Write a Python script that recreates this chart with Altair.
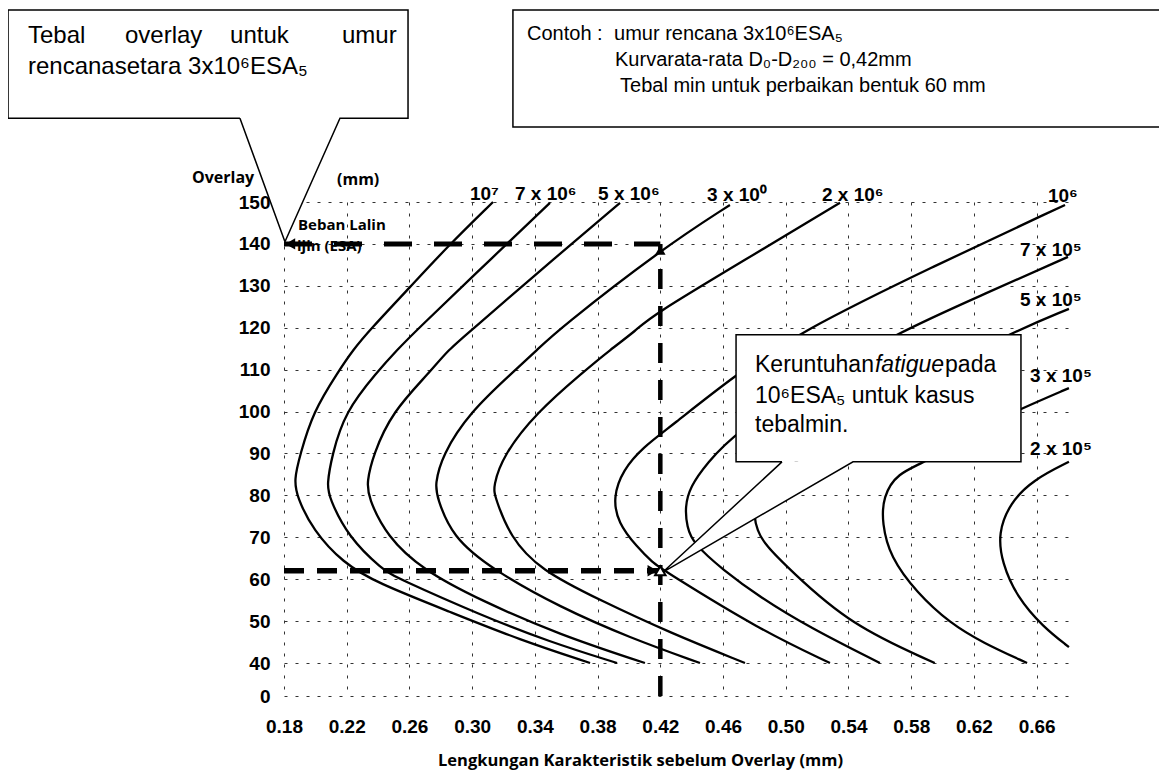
import altair as alt
import pandas as pd

# ---------------- data ----------------
series_names = ["10^7", "7x10^6", "5x10^6", "3x10^6", "2x10^6", "10^6", "7x10^5", "5x10^5", "3x10^5", "2x10^5"]

c1e7_x = [0.3133, 0.2846, 0.2604, 0.2348, 0.2240, 0.2144, 0.1985, 0.1902, 0.1864, 0.1883, 0.1985, 0.2176, 0.2393, 0.2859, 0.3305, 0.3752]
c1e7_y = [150.0, 139.5, 129.7, 119.5, 114.7, 109.4, 99.9, 89.6, 83.7, 79.6, 71.7, 63.9, 59.1, 52.2, 45.5, 40.0]

c7e6_x = [0.3496, 0.3005, 0.2648, 0.2521, 0.2393, 0.2189, 0.2106, 0.2074, 0.2087, 0.2208, 0.2431, 0.2521, 0.3050, 0.3496, 0.3924]
c7e6_y = [149.8, 132.3, 119.5, 114.7, 109.4, 99.9, 89.6, 82.5, 79.6, 70.1, 62.2, 60.3, 51.5, 45.0, 40.0]

c5e6_x = [0.3943, 0.3401, 0.2999, 0.2846, 0.2731, 0.2489, 0.2368, 0.2329, 0.2336, 0.2457, 0.2686, 0.3050, 0.3560, 0.4102]
c5e6_y = [149.8, 132.6, 119.5, 114.7, 109.4, 99.9, 89.6, 83.2, 79.6, 70.1, 62.2, 55.0, 46.7, 40.0]

c3e6_x = [0.4644, 0.4217, 0.3547, 0.3414, 0.3260, 0.2986, 0.2808, 0.2763, 0.2776, 0.2871, 0.3133, 0.3560, 0.4007, 0.4453]
c3e6_y = [149.3, 139.0, 119.5, 114.7, 109.4, 99.9, 89.6, 82.5, 79.6, 70.1, 62.2, 53.3, 46.0, 40.0]

c2e6_x = [0.5346, 0.4740, 0.4134, 0.4051, 0.3879, 0.3707, 0.3414, 0.3197, 0.3133, 0.3146, 0.3241, 0.3433, 0.3815, 0.4262, 0.4740]
c2e6_y = [149.8, 136.2, 122.6, 119.5, 114.7, 109.4, 99.9, 89.6, 82.0, 79.6, 70.1, 62.2, 55.0, 47.2, 40.0]

c1e6_x = [0.6781, 0.5920, 0.5091, 0.4676, 0.4262, 0.4090, 0.3962, 0.3898, 0.3930, 0.4051, 0.4153, 0.4217, 0.4836, 0.5282]
c1e6_y = [149.3, 134.3, 119.0, 108.7, 96.3, 91.5, 86.1, 79.6, 73.4, 67.7, 63.9, 62.2, 47.9, 40.0]

c7e5_x = [0.6800, 0.6239, 0.5709, 0.5186, 0.4676, 0.4498, 0.4389, 0.4357, 0.4370, 0.4408, 0.4600, 0.4836, 0.5150, 0.5600]
c7e5_y = [136.9, 127.6, 118.7, 107.5, 94.9, 87.7, 82.0, 77.2, 72.5, 68.6, 62.2, 55.7, 48.5, 40.0]

c5e5_x = [0.6806, 0.6430, 0.5729, 0.5218, 0.4931, 0.4804, 0.4797, 0.4817, 0.4868, 0.5027, 0.5410, 0.5950]
c5e5_y = [124.5, 118.7, 105.1, 93.2, 83.7, 78.5, 75.3, 71.7, 68.2, 62.2, 49.1, 40.0]

c3e5_x = [0.6806, 0.6507, 0.6175, 0.5901, 0.5709, 0.5620, 0.5614, 0.5665, 0.5837, 0.6047, 0.6258, 0.6539]
c3e5_y = [105.6, 100.8, 94.9, 88.0, 85.3, 79.6, 73.4, 65.3, 56.7, 49.5, 44.8, 40.0]

c2e5_x = [0.6806, 0.6577, 0.6430, 0.6354, 0.6379, 0.6475, 0.6641, 0.6806]
c2e5_y = [88.0, 83.7, 78.2, 71.0, 63.9, 55.7, 48.6, 43.8]

x_grid_values = [0.18, 0.20, 0.22, 0.24, 0.26, 0.28, 0.30, 0.32, 0.34, 0.36, 0.38, 0.40, 0.42,
                 0.44, 0.46, 0.48, 0.50, 0.52, 0.54, 0.56, 0.58, 0.60, 0.62, 0.64, 0.66, 0.68]
y_tick_values = [0, 40, 50, 60, 70, 80, 90, 100, 110, 120, 130, 140, 150]

# example: design life 3x10^6 ESA, curvature 0.42 mm -> 140 mm ; fatigue at 10^6 ESA -> 62 mm
example_curv = 0.42
example_overlay = 140
fatigue_overlay = 62

# ---------------- build tables ----------------
all_xy = [(c1e7_x, c1e7_y), (c7e6_x, c7e6_y), (c5e6_x, c5e6_y), (c3e6_x, c3e6_y), (c2e6_x, c2e6_y),
          (c1e6_x, c1e6_y), (c7e5_x, c7e5_y), (c5e5_x, c5e5_y), (c3e5_x, c3e5_y), (c2e5_x, c2e5_y)]
rows = []
for name, (xs, ys) in zip(series_names, all_xy):
    for i, (xv, yv) in enumerate(zip(xs, ys)):
        rows.append({"series": name, "idx": i, "x": xv, "y": yv})
curves_df = pd.DataFrame(rows)

XMIN, XMAX = 0.18, 0.68
xscale = alt.Scale(domain=[XMIN, XMAX], nice=False, zero=False)
yscale = alt.Scale(domain=[0, 40, 150], range=[494, 461, 0], nice=False, zero=False)

ARIAL = "Liberation Sans, Arial"
HUMAN = "Open Sans, Noto Sans, sans-serif"
GRID_DASH = [3, 8]

x_axis = alt.Axis(values=x_grid_values,
                  labelExpr="(round(datum.value*100) % 4 == 2) ? format(datum.value, '.2f') : ''",
                  labelFont=ARIAL, labelFontWeight="bold", labelFontSize=19, labelColor="black",
                  labelPadding=21, ticks=False, domain=False, grid=True, gridDash=GRID_DASH,
                  gridColor="#333", gridWidth=1, labelFlush=False,
                  title="Lengkungan Karakteristik sebelum Overlay (mm)", titleFont=HUMAN,
                  titleFontSize=16.5, titleFontWeight="bold", titleColor="black",
                  titleX=356, titleY=69, titleAnchor="start", titleAlign="center", titleBaseline="alphabetic")
y_axis = alt.Axis(values=y_tick_values, labelFont=ARIAL, labelFontWeight="bold", labelFontSize=19,
                  labelColor="black", labelPadding=14, ticks=False, domain=False, grid=True,
                  gridDash=GRID_DASH, gridColor="#333", gridWidth=1, title=None, labelFlush=False)

curves = alt.Chart(curves_df).mark_line(color="black", strokeWidth=2.3, interpolate="basis").encode(
    x=alt.X("x:Q", scale=xscale, axis=x_axis),
    y=alt.Y("y:Q", scale=yscale, axis=y_axis),
    detail="series:N",
    order=alt.Order("idx:Q"),
)

# dashed example lines
h140 = alt.Chart(pd.DataFrame({"x": [XMIN], "x2": [example_curv], "y": [example_overlay]})).mark_rule(
    color="black", strokeWidth=5, strokeDash=[28, 22]).encode(x="x:Q", x2="x2:Q", y="y:Q")
vline = alt.Chart(pd.DataFrame({"x": [example_curv], "y": [0], "y2": [example_overlay]})).mark_rule(
    color="black", strokeWidth=4.5, strokeDash=[20, 17]).encode(x="x:Q", y="y:Q", y2="y2:Q")
h62 = alt.Chart(pd.DataFrame({"x": [XMIN], "x2": [example_curv], "y": [fatigue_overlay]})).mark_rule(
    color="black", strokeWidth=5.5, strokeDash=[20, 13]).encode(x="x:Q", x2="x2:Q", y="y:Q")

arrow_left = alt.Chart(pd.DataFrame({"x": [XMIN + 0.004], "y": [example_overlay]})).mark_point(
    shape="triangle-left", filled=True, color="black", size=130, opacity=1).encode(x="x:Q", y="y:Q")
arrow_up = alt.Chart(pd.DataFrame({"x": [example_curv], "y": [example_overlay - 1.5]})).mark_point(
    shape="triangle-up", filled=True, color="black", size=110, opacity=1).encode(x="x:Q", y="y:Q")
arrow_right = alt.Chart(pd.DataFrame({"x": [example_curv - 0.005], "y": [fatigue_overlay]})).mark_point(
    shape="triangle-right", filled=True, color="black", size=130, opacity=1).encode(x="x:Q", y="y:Q")
star = alt.Chart(pd.DataFrame({"x": [example_curv], "y": [fatigue_overlay]})).mark_point(
    shape="triangle-up", filled=True, fill="white", stroke="black", strokeWidth=2, size=110, opacity=1).encode(x="x:Q", y="y:Q")

# ---------------- callouts (data units) ----------------
def callout(box, base, tip):
    x0, x1, y0, y1 = box   # left, right, bottom, top
    bl, br = base
    fill_rect = alt.Chart(pd.DataFrame({"x": [x0], "x2": [x1], "y": [y0], "y2": [y1]})).mark_rect(
        fill="white").encode(x="x:Q", x2="x2:Q", y="y:Q", y2="y2:Q")
    tri = alt.Chart(pd.DataFrame({"y": [tip[1], y0], "x": [tip[0], bl], "x2": [tip[0], br]})).mark_area(
        orient="horizontal", color="white", opacity=1).encode(y="y:Q", x="x:Q", x2="x2:Q")
    path = [(bl, y0), tip, (br, y0), (x1, y0), (x1, y1), (x0, y1), (x0, y0), (bl, y0)]
    outline = alt.Chart(pd.DataFrame({"o": list(range(len(path))), "x": [p[0] for p in path],
                                      "y": [p[1] for p in path]})).mark_line(
        color="black", strokeWidth=1.5).encode(x="x:Q", y="y:Q", order="o:Q")
    return [fill_rect, tri, outline]

left_callout = callout((0.0040, 0.2591, 170.0, 195.8), (0.1519, 0.2157), (0.1806, 140.5))
fat_callout = callout((0.4683, 0.6500, 88.0, 118.3), (0.4976, 0.5429), (0.4217, 61.7))
right_box = alt.Chart(pd.DataFrame({"x": [0.3260], "x2": [0.7419], "y": [167.9], "y2": [195.8]})).mark_rect(
    fill="white", stroke="black", strokeWidth=1.5).encode(x="x:Q", x2="x2:Q", y="y:Q", y2="y2:Q")

def txt(text, x, y, size, font=ARIAL, weight="normal", style="normal", align="left"):
    return alt.Chart(pd.DataFrame({"t": [text]})).mark_text(
        text=text, font=font, fontSize=size, fontWeight=weight, fontStyle=style, align=align,
        baseline="alphabetic", color="black").encode(x=alt.datum(x), y=alt.datum(y))

texts = [
    # curve labels
    txt("10⁷", 0.2986, 150.5, 19, ARIAL, "bold"),
    txt("7 x 10⁶", 0.3273, 150.5, 19, ARIAL, "bold"),
    txt("5 x 10⁶", 0.3803, 150.5, 19, ARIAL, "bold"),
    txt("3 x 10⁰", 0.4498, 150.3, 19, ARIAL, "bold"),
    txt("2 x 10⁶", 0.5231, 150.3, 19, ARIAL, "bold"),
    txt("10⁶", 0.6672, 150.0, 19, ARIAL, "bold"),
    txt("7 x 10⁵", 0.6494, 137.1, 19, ARIAL, "bold"),
    txt("5 x 10⁵", 0.6494, 125.2, 19, ARIAL, "bold"),
    txt("3 x 10⁵", 0.6558, 107.1, 19, ARIAL, "bold"),
    txt("2 x 10⁵", 0.6558, 89.6, 19, ARIAL, "bold"),
    # y axis title pieces
    txt("Overlay", 0.1213, 154.5, 16, HUMAN, "bold"),
    txt("(mm)", 0.2138, 154.1, 16, HUMAN, "bold"),
    txt("Beban Lalin", 0.1889, 143.3, 15, HUMAN, "bold"),
    txt("ijin (ESA)", 0.1883, 138.3, 15, HUMAN, "bold"),
    # left callout
    txt("Tebal", 0.0167, 187.9, 24),
    txt("overlay", 0.0786, 187.9, 24),
    txt("untuk", 0.1456, 187.9, 24),
    txt("umur", 0.2170, 187.9, 24),
    txt("rencanasetara 3x10⁶ESA₅", 0.0167, 180.6, 24),
    # right box
    txt("Contoh :", 0.3350, 188.7, 20),
    txt("umur rencana 3x10⁶ESA₅", 0.3905, 188.7, 20),
    txt("Kurvarata-rata D₀-D₂₀₀ = 0,42mm", 0.3911, 182.5, 20),
    txt("Tebal min untuk perbaikan bentuk 60 mm", 0.3943, 176.2, 20),
    # fatigue callout
    txt("Keruntuhan", 0.4804, 109.4, 23),
    txt("fatigue", 0.5569, 109.4, 23, style="italic"),
    txt("pada", 0.6016, 109.4, 23),
    txt("10⁶ESA₅ untuk kasus", 0.4804, 102.0, 23),
    txt("tebalmin.", 0.4804, 95.1, 23),
]

layers = [curves, h140, vline, h62, arrow_left, arrow_up, arrow_right, star] + left_callout + fat_callout + [right_box] + texts

chart = alt.layer(*layers).properties(
    width=784, height=494,
    padding={"left": 276, "top": 194, "right": 91, "bottom": 82},
    autosize=alt.AutoSizeParams(type="none"),
    background="white",
).configure_view(stroke=None)

chart.save("out.html", embed_options={"renderer": "svg", "actions": False})
